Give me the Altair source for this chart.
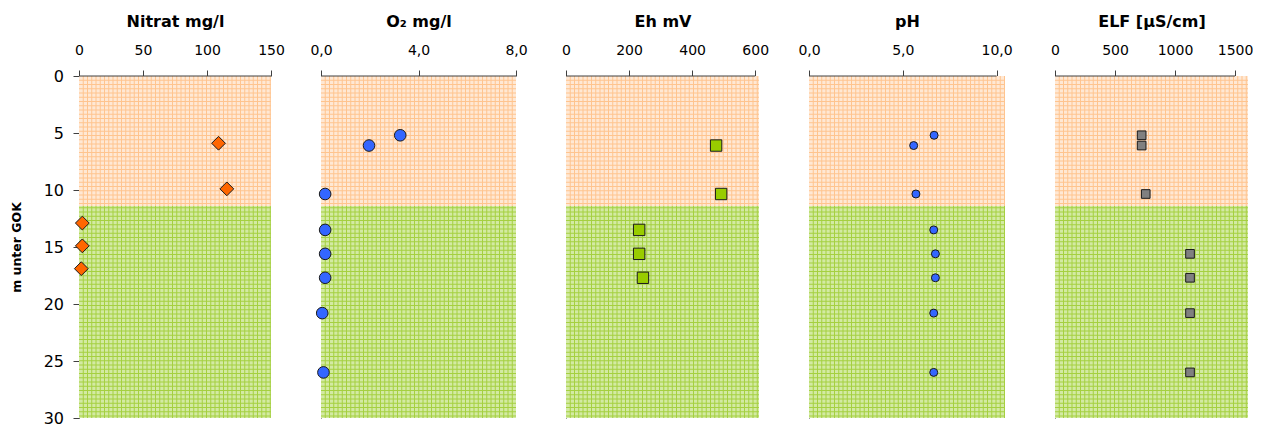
import altair as alt
import pandas as pd

# ---- data ----
Y_SPLIT = 11.4          # boundary between upper (orange) and lower (green) zone, m
Y_MAX = 30
y_ticks = [0, 5, 10, 15, 20, 25, 30]

nitrat_depth = [5.9, 9.9, 12.9, 14.9, 16.9]
nitrat_value = [109, 115.5, 2.6, 2.6, 1.8]

o2_depth = [5.2, 6.1, 10.35, 13.5, 15.6, 17.7, 20.8, 26.0]
o2_value = [3.25, 1.97, 0.17, 0.17, 0.17, 0.17, 0.05, 0.1]

eh_depth = [6.1, 10.35, 13.5, 15.6, 17.7]
eh_value = [476, 492, 232, 232, 244]

ph_depth = [5.2, 6.1, 10.35, 13.5, 15.6, 17.7, 20.8, 26.0]
ph_value = [6.67, 5.58, 5.70, 6.65, 6.74, 6.74, 6.65, 6.65]

elf_depth = [5.2, 6.1, 10.35, 15.6, 17.7, 20.8, 26.0]
elf_value = [722, 722, 756, 1125, 1125, 1125, 1125]

FONT = "DejaVu Sans"
AXIS_COL = "#404040"
PEACH_BG, PEACH_LINE = "#FFE8D4", "#FFC48E"
GREEN_BG, GREEN_LINE = "#D3EAA3", "#A5D040"
GRID_PX = 4.25

INT_FMT = "format(datum.value, 'd')"
DEC_FMT = "replace(format(datum.value, '.1f'), '.', ',')"


def panel(title, depth, value, xmax, ticks, width, label_expr, shape, size, fill, first):
    height = 342
    xs = alt.Scale(domain=[0, xmax], nice=False, zero=False)
    ys = alt.Scale(domain=[0, Y_MAX], reverse=True, nice=False)

    if first:
        y_axis = alt.Axis(values=y_ticks, title="m unter GOK", titleFont=FONT, titleFontSize=12.5,
                          titleFontWeight="bold", titleColor="#000", titlePadding=20,
                          labelFont=FONT, labelFontSize=16, labelColor="#000", labelPadding=9.5,
                          labelFlush=False, tickSize=6, tickColor=AXIS_COL, domainColor=AXIS_COL,
                          grid=False)
    else:
        y_axis = alt.Axis(values=y_ticks, title=None, labels=False, ticks=False,
                          domainColor=AXIS_COL, grid=False)
    x_axis = alt.Axis(orient="top", values=ticks, labelExpr=label_expr, title=title,
                      titleFont=FONT, titleFontSize=16, titleFontWeight="bold", titleColor="#000",
                      titlePadding=14, labelFont=FONT, labelFontSize=14, labelColor="#000",
                      labelPadding=13, labelFlush=False, tickSize=6, tickColor=AXIS_COL,
                      domain=False, grid=False)

    zones = pd.DataFrame({"y0": [0, Y_SPLIT], "y1": [Y_SPLIT, Y_MAX], "zone": ["oben", "unten"]})
    bg = alt.Chart(zones).mark_rect().encode(
        x=alt.value(0), x2=alt.value(width),
        y=alt.Y("y0:Q", scale=ys, axis=y_axis), y2="y1:Q",
        color=alt.Color("zone:N", scale=alt.Scale(domain=["oben", "unten"], range=[PEACH_BG, GREEN_BG]),
                        legend=None),
    )

    gx = xmax * GRID_PX / width
    gy = Y_MAX * GRID_PX / height
    layers = [bg]
    for (y0, y1, col) in [(0, Y_SPLIT, PEACH_LINE), (Y_SPLIT, Y_MAX, GREEN_LINE)]:
        vlines = alt.Chart(alt.sequence(gx, xmax, gx, as_="v")).mark_rule(color=col, strokeWidth=1).encode(
            x=alt.X("v:Q", scale=xs, axis=x_axis),
            y=alt.YDatum(y0, scale=ys, axis=y_axis), y2=alt.Y2Datum(y1))
        start = (int(y0 / gy) + 1) * gy
        hlines = alt.Chart(alt.sequence(start, y1, gy, as_="v")).mark_rule(color=col, strokeWidth=1).encode(
            y=alt.Y("v:Q", scale=ys, axis=y_axis),
            x=alt.XDatum(0, scale=xs, axis=x_axis), x2=alt.X2Datum(xmax))
        layers += [vlines, hlines]

    axis_line = alt.Chart(pd.DataFrame({"a": [0], "b": [ticks[-1]]})).mark_rule(
        color=AXIS_COL, strokeWidth=1).encode(
        x=alt.X("a:Q", scale=xs, axis=x_axis), x2="b:Q", y=alt.value(0))

    df = pd.DataFrame({"depth": depth, "value": value})
    pts = alt.Chart(df).mark_point(shape=shape, size=size, filled=True, fill=fill, stroke="#1a1a1a",
                                   strokeWidth=1, opacity=1).encode(
        x=alt.X("value:Q", scale=xs, axis=x_axis),
        y=alt.Y("depth:Q", scale=ys, axis=y_axis),
    )
    layers += [axis_line, pts]
    return alt.layer(*layers).properties(width=width, height=height)


p1 = panel("Nitrat mg/l", nitrat_depth, nitrat_value, 150, [0, 50, 100, 150], 192, INT_FMT,
           "diamond", 190, "#FF6600", True)
p2 = panel("O₂ mg/l", o2_depth, o2_value, 8, [0, 4, 8], 195, DEC_FMT,
           "circle", 135, "#3366FF", False)
p3 = panel("Eh mV", eh_depth, eh_value, 612, [0, 200, 400, 600], 193, INT_FMT,
           "square", 130, "#99CC00", False)
p4 = panel("pH", ph_depth, ph_value, 10.45, [0, 5, 10], 196, DEC_FMT,
           "circle", 64, "#3366FF", False)
p5 = panel("ELF [µS/cm]", elf_depth, elf_value, 1608, [0, 500, 1000, 1500], 193, INT_FMT,
           "square", 75, "#808080", False)

chart = alt.hconcat(p1, p2, p3, p4, p5, spacing=50, bounds="flush",
                    padding={"left": 2, "top": 5, "right": 0, "bottom": 0}).configure_view(stroke=None)

chart.save("out.html", embed_options={"renderer": "svg", "actions": False})
